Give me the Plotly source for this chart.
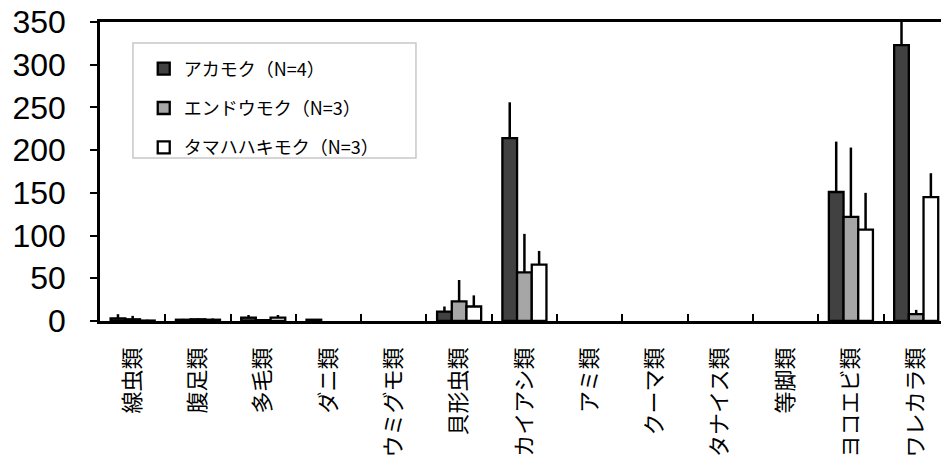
import plotly.graph_objects as go

# Taxa (x categories)
categories = ["線虫類", "腹足類", "多毛類", "ダニ類", "ウミグモ類", "貝形虫類", "カイアシ類",
              "アミ類", "クーマ類", "タナイス類", "等脚類", "ヨコエビ類", "ワレカラ類"]

# Mean abundance per seaweed species
akamoku = [3, 1.5, 4, 1.5, 0, 11, 214, 0, 0, 0, 0, 151, 323]
endoumoku = [2, 2, 1, 0, 0, 23, 57, 0, 0, 0, 0, 122, 8]
tamahahakimoku = [0.5, 1.5, 4, 0, 0, 17, 66, 0, 0, 0, 0, 107, 145]

# Standard deviation (upper whisker only)
akamoku_sd = [5, 1, 3, 0.5, 0, 6, 42, 0, 0, 0, 0, 59, 45]
endoumoku_sd = [4, 1, 1, 0, 0, 25, 45, 0, 0, 0, 0, 81, 5]
tamahahakimoku_sd = [1, 1.5, 3, 0, 0, 13, 16, 0, 0, 0, 0, 43, 28]

series_names = ["アカモク（N=4）", "エンドウモク（N=3）", "タマハハキモク（N=3）"]
series_values = [akamoku, endoumoku, tamahahakimoku]
series_errors = [akamoku_sd, endoumoku_sd, tamahahakimoku_sd]
series_colors = ["#414141", "#a6a6a6", "#ffffff"]

y_ticks = [0, 50, 100, 150, 200, 250, 300, 350]

fig = go.Figure()
for i, (name, vals, errs, col) in enumerate(zip(series_names, series_values, series_errors, series_colors)):
    # no outline on empty bars so the baseline stays a single clean line
    outline = [0 if v == 0 else 2.3 for v in vals]
    fig.add_trace(go.Bar(
        x=categories, y=vals, name=name, legendgroup=f"g{i}",
        marker=dict(color=col, line=dict(color="#000000", width=outline)),
        error_y=dict(type="data", symmetric=False, array=errs,
                     arrayminus=[0] * len(errs), color="#000000",
                     thickness=2.5, width=0),
    ))

# Legend frame
fig.add_shape(type="rect", xref="paper", yref="paper",
              x0=0.0392, x1=0.3757, y0=0.545, y1=0.930,
              line=dict(color="#c8c8c8", width=1.5), fillcolor="rgba(0,0,0,0)",
              layer="below")

fig.update_layout(
    width=941, height=461,
    margin=dict(l=100, r=0, t=22, b=140),
    paper_bgcolor="white", plot_bgcolor="white",
    barmode="group", bargap=0.325, bargroupgap=0,
    showlegend=True,
    legend=dict(x=0.052, y=0.905, xanchor="left", yanchor="top",
                bgcolor="rgba(0,0,0,0)", borderwidth=0,
                traceorder="grouped", tracegroupgap=13,
                itemwidth=30,
                font=dict(family="Noto Sans CJK JP", size=18, color="#000000")),
    xaxis=dict(type="category", range=[-0.5, 12.38],
               showline=True, linecolor="#000000", linewidth=2.5, mirror=True,
               ticks="inside", tickson="boundaries", ticklen=7, tickwidth=2,
               tickcolor="#000000", tickangle=-90, ticklabelstandoff=15,
               tickfont=dict(family="Noto Sans CJK JP", size=22, color="#000000"),
               showgrid=False, zeroline=False),
    yaxis=dict(range=[0, 350], tickvals=y_ticks,
               showline=True, linecolor="#000000", linewidth=2.5,
               ticks="outside", ticklen=7, tickwidth=2, tickcolor="#000000",
               ticklabelstandoff=18,
               tickfont=dict(family="Liberation Sans", size=32, color="#000000"),
               showgrid=False, zeroline=False),
)

fig.write_html("out.html")
